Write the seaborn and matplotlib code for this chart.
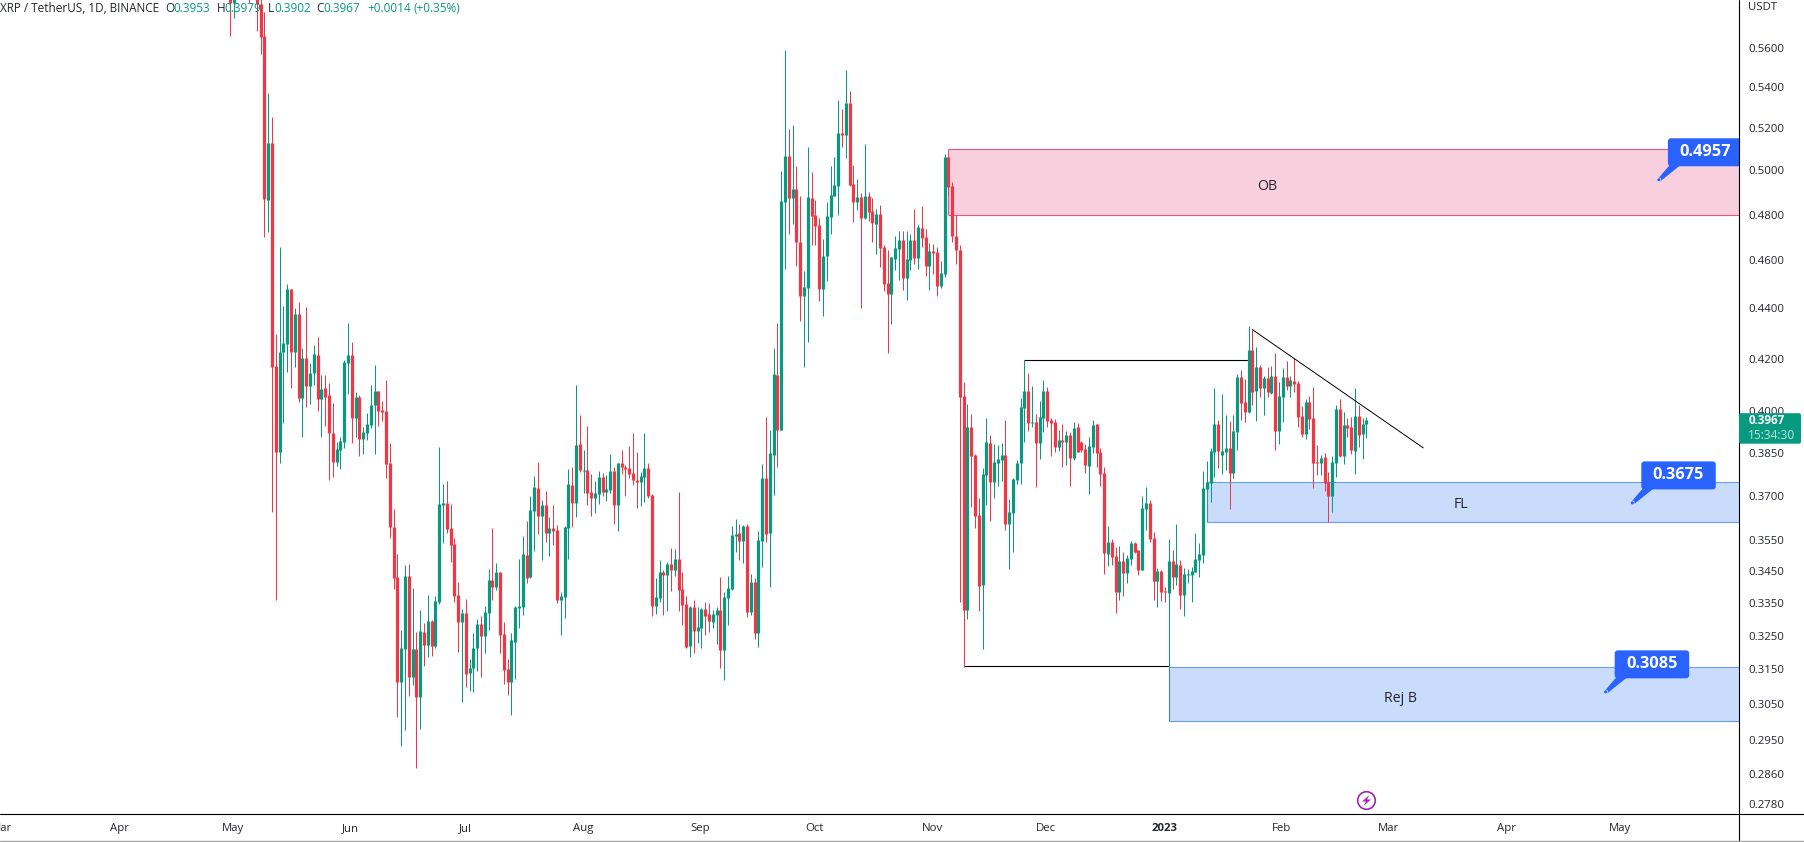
import matplotlib.pyplot as plt
import matplotlib.dates as mdates
from matplotlib.lines import Line2D
from matplotlib.patches import Rectangle, FancyBboxPatch, Polygon, Circle
from matplotlib.transforms import IdentityTransform
import seaborn as sns
import pandas as pd

# daily candles, oldest first (the first few sit above the visible range)
opens = [
    .6000,.5839,.5980,.5900,.6000,.6050,.5950,.6020,.5836,
    .5663,.4865,.5129,.4172,.3853,.4226,.4258,.4480,.4226,.4378,
    .4050,.4203,.4095,.4145,.4214,.4047,.4088,.4062,.3921,.3817,
    .3860,.3889,.4184,.4214,.3976,.4054,.3900,.3921,.3951,.4024,
    .4076,.4005,.4001,.3814,.3594,.3432,.3114,.3211,.3435,.3129,
    .3211,.3071,.3262,.3223,.3295,.3220,.3353,.3668,.3675,.3591,
    .3538,.3375,.3292,.3320,.3140,.3155,.3214,.3286,.3250,.3320,
    .3422,.3400,.3448,
    .3256,.3152,.3114,.3232,.3335,.3338,.3503,.3432,.3648,.3727,
    .3631,.3668,.3574,.3591,.3584,.3359,.3369,.3591,.3737,.3675,
    .3882,.3785,.3789,.3713,.3692,.3706,.3764,.3713,.3720,.3785,
    .3668,.3814,.3799,.3796,.3778,.3754,.3747,.3764,.3796,.3702,
    .3341,.3366,.3448,.3438,.3473,.3454,.3489,.3394,.3347,.3220,
    .3338,.3265,.3274,.3332,.3317,.3292,.3314,.3329,.3208,.3366,
    .3394,.3564,.3574,.3548,.3598,.3323,.3416,.3259,.3548,.3761,
    .3574,.3842,.4138,.3932,
    .4856,.5068,.4874,.4915,.4679,.4451,.4484,.4874,.4798,.4754,
    .4480,.4619,.4789,.4883,.4929,.5177,.5167,.5322,.4938,.4856,
    .4879,.4785,.4883,.4816,.4758,.4802,.4658,.4505,.4460,.4606,
    .4649,.4688,.4526,.4602,.4688,.4611,.4741,.4701,.4577,.4641,
    .4636,.4493,.4543,.5063,.4929,.4705,.4645,.4058,
    .3329,.3943,.3842,.3634,.3406,.3771,.3885,.3747,.3814,.3824,
    .3842,.3604,.3641,.3754,.3814,.4013,.4076,.3958,.3961,.3885,
    .3976,.4076,.3969,.3961,.3871,.3896,.3889,.3914,.3831,.3943,
    .3889,.3864,.3803,.3871,.3954,.3853,.3778,.3506,.3545,.3499,
    .3385,.3483,.3444,.3489,.3541,.3519,.3454,.3654,.3675,.3558,
    .3419,.3451,.3388,.3381,.3483,.3432,.3470,.3375,.3438,.3438,
    .3448,.3486,.3503,.3723,.3744,.3853,.3954,.3842,.3853,.3867,
    .3778,.3925,.4130,.4035,.3998,.4234,.4076,.4168,.4088,.4126,
    .4069,.4134,.3928,.4054,.4130,.4095,.4114,.4107,.3983,.3918,
    .4035,.3976,.3817,.3814,.3835,.3747,.3699,.3814,.4009,.3838,
    .3951,.3943,.3857,.3983,.3918,.3953,
]
highs = [
    .6100,.6050,.6050,.6020,.6040,.6100,.6050,.6050,.5880,
    .5790,.5372,.5253,.4298,.4658,.4410,.4501,.4480,.4402,.4427,
    .4242,.4406,.4184,.4254,.4286,.4138,.4138,.4107,.4032,.3889,
    .3907,.4195,.4342,.4266,.4073,.4062,.3943,.3994,.4099,.4176,
    .4076,.4039,.4118,.3885,.3654,.3506,.3268,.3470,.3473,.3397,
    .3262,.3329,.3289,.3375,.3298,.3372,.3871,.3740,.3751,.3671,
    .3558,.3416,.3332,.3362,.3181,.3259,.3301,.3310,.3341,.3457,
    .3591,.3476,.3448,
    .3292,.3181,.3259,.3341,.3489,.3564,.3614,.3699,.3768,.3817,
    .3685,.3716,.3628,.3668,.3601,.3385,.3598,.3792,.3799,.4099,
    .3987,.3860,.3947,.3775,.3751,.3785,.3778,.3771,.3846,.3799,
    .3814,.3860,.3806,.3874,.3921,.3853,.3782,.3921,.3814,.3706,
    .3428,.3486,.3454,.3480,.3525,.3522,.3713,.3448,.3372,.3341,
    .3359,.3338,.3335,.3353,.3350,.3329,.3338,.3432,.3385,.3435,
    .3598,.3621,.3604,.3601,.3604,.3441,.3428,.3581,.3810,.3980,
    .3932,.4242,.4342,.4997,
    .5590,.5196,.5215,.5021,.4883,.4556,.5110,.4993,.4865,.4785,
    .4692,.4856,.5021,.5063,.5337,.5293,.5487,.5382,.5026,.4961,
    .4897,.5124,.4901,.4874,.4825,.4843,.4666,.4645,.4615,.4705,
    .4727,.4727,.4727,.4714,.4825,.4754,.4838,.4736,.4675,.4670,
    .4658,.4598,.5077,.5063,.4947,.4798,.4666,.4110,
    .4028,.3990,.3846,.3692,.3796,.3976,.3914,.3882,.3878,.3885,
    .3969,.3689,.3761,.3824,.4050,.4195,.4145,.4095,.3990,.4039,
    .4118,.4092,.3976,.3972,.3932,.3954,.3928,.3925,.3961,.3958,
    .3892,.3882,.3907,.3969,.3954,.3867,.3799,.3598,.3554,.3528,
    .3532,.3512,.3503,.3548,.3545,.3519,.3699,.3730,.3685,.3578,
    .3460,.3454,.3400,.3554,.3519,.3604,.3486,.3460,.3457,.3464,
    .3574,.3541,.3785,.3821,.3867,.4088,.3969,.4065,.3987,.3965,
    .3987,.4141,.4157,.4122,.4330,.4314,.4246,.4176,.4134,.4168,
    .4172,.4222,.4110,.4164,.4191,.4134,.4203,.4114,.4020,.4047,
    .4058,.4092,.3878,.3842,.3850,.3782,.3838,.4024,.4047,.3998,
    .3976,.3980,.4088,.4024,.3976,.3979,
]
lows = [
    .5663,.5758,.5870,.5880,.5900,.5840,.5900,.5689,.5569,
    .4701,.4723,.3644,.3359,.3814,.3958,.4149,.4088,.4168,.4035,
    .3907,.4016,.4028,.4099,.4001,.3907,.3947,.3754,.3764,.3803,
    .3792,.3867,.4065,.3885,.3907,.3838,.3846,.3896,.3939,.3846,
    .3947,.3965,.3761,.3558,.3394,.3013,.2935,.2979,.3074,.3105,
    .2874,.2982,.3160,.3187,.3190,.3214,.3347,.3541,.3574,.3480,
    .3353,.3202,.3057,.3100,.3088,.3085,.3146,.3129,.3199,.3268,
    .3359,.3391,.3199,
    .3108,.3077,.3021,.3123,.3274,.3314,.3413,.3428,.3516,.3571,
    .3486,.3545,.3499,.3535,.3350,.3253,.3304,.3489,.3594,.3628,
    .3782,.3709,.3668,.3631,.3641,.3671,.3699,.3681,.3709,.3604,
    .3581,.3775,.3699,.3761,.3737,.3658,.3665,.3678,.3692,.3310,
    .3317,.3353,.3314,.3326,.3388,.3435,.3326,.3283,.3214,.3187,
    .3199,.3229,.3214,.3253,.3262,.3274,.3226,.3155,.3120,.3283,
    .3391,.3512,.3486,.3476,.3307,.3314,.3241,.3217,.3464,.3545,
    .3400,.3702,.3799,.3932,
    .4564,.4714,.4758,.4577,.4350,.4168,.4266,.4666,.4666,.4431,
    .4370,.4514,.4714,.4883,.4798,.5110,.5058,.4929,.4767,.4820,
    .4402,.4780,.4772,.4679,.4628,.4572,.4472,.4222,.4338,.4560,
    .4518,.4476,.4435,.4560,.4585,.4564,.4658,.4535,.4476,.4543,
    .4451,.4484,.4531,.4888,.4679,.4585,.3353,.3158,
    .3301,.3661,.3591,.3326,.3211,.3668,.3614,.3692,.3733,.3751,
    .3584,.3457,.3512,.3740,.3740,.3889,.3928,.3943,.3730,.3828,
    .3925,.3943,.3838,.3853,.3857,.3799,.3806,.3733,.3824,.3853,
    .3853,.3778,.3706,.3850,.3799,.3733,.3441,.3467,.3470,.3320,
    .3359,.3372,.3413,.3470,.3509,.3438,.3454,.3584,.3545,.3359,
    .3338,.3356,.3353,.3158,.3394,.3406,.3332,.3310,.3413,.3353,
    .3448,.3432,.3476,.3720,.3678,.3764,.3796,.3775,.3789,.3654,
    .3761,.3860,.3969,.3961,.3994,.4024,.3965,.4054,.3987,.4054,
    .4065,.3860,.3882,.3961,.4080,.4054,.4073,.3943,.3907,.3900,
    .3936,.3727,.3771,.3771,.3716,.3611,.3644,.3764,.3835,.3810,
    .3907,.3846,.3775,.3871,.3828,.3902,
]
closes = [
    .5839,.5980,.5900,.6000,.5950,.5950,.6020,.5836,.5657,
    .4870,.5129,.4168,.3853,.4226,.4262,.4480,.4226,.4378,.4050,
    .4203,.4095,.4145,.4218,.4047,.4084,.4054,.3921,.3817,.3864,
    .3892,.4187,.4214,.3976,.4054,.3900,.3925,.3954,.4024,.4076,
    .4001,.3998,.3810,.3594,.3428,.3114,.3214,.3435,.3129,.3211,
    .3071,.3265,.3223,.3295,.3220,.3356,.3671,.3675,.3587,.3535,
    .3372,.3292,.3320,.3137,.3155,.3214,.3286,.3250,.3323,.3422,
    .3400,.3448,.3253,
    .3149,.3114,.3238,.3338,.3341,.3506,.3428,.3651,.3730,.3631,
    .3668,.3574,.3591,.3581,.3359,.3372,.3594,.3740,.3675,.3878,
    .3789,.3789,.3709,.3692,.3709,.3764,.3713,.3723,.3785,.3668,
    .3814,.3799,.3792,.3775,.3754,.3747,.3768,.3796,.3699,.3341,
    .3369,.3448,.3438,.3473,.3454,.3489,.3391,.3344,.3217,.3338,
    .3265,.3277,.3332,.3310,.3295,.3317,.3329,.3208,.3369,.3397,
    .3568,.3571,.3548,.3598,.3323,.3416,.3259,.3551,.3761,.3571,
    .3850,.4141,.3932,.4860,
    .5068,.4874,.4915,.4679,.4451,.4489,.4879,.4794,.4749,.4480,
    .4619,.4794,.4888,.4933,.5177,.5167,.5322,.4933,.4856,.4879,
    .4785,.4883,.4811,.4763,.4802,.4654,.4501,.4460,.4615,.4654,
    .4688,.4526,.4606,.4688,.4611,.4745,.4697,.4577,.4641,.4632,
    .4493,.4547,.5063,.4924,.4705,.4645,.4054,.3329,
    .3943,.3838,.3631,.3403,.3775,.3889,.3747,.3817,.3828,.3842,
    .3604,.3644,.3758,.3814,.4016,.4076,.3958,.3961,.3885,.3980,
    .4076,.3965,.3958,.3871,.3896,.3889,.3914,.3831,.3939,.3853,
    .3860,.3806,.3874,.3951,.3850,.3775,.3509,.3545,.3496,.3385,
    .3483,.3444,.3493,.3541,.3512,.3454,.3658,.3675,.3554,.3419,
    .3451,.3385,.3385,.3483,.3432,.3473,.3375,.3441,.3441,.3451,
    .3489,.3506,.3727,.3747,.3857,.3954,.3857,.3857,.3867,.3778,
    .3928,.4130,.4032,.3998,.4234,.4073,.4168,.4088,.4126,.4073,
    .4134,.3928,.4058,.4130,.4095,.4118,.4103,.3980,.3918,.4035,
    .3972,.3814,.3814,.3831,.3744,.3699,.3817,.4009,.3838,.3951,
    .3939,.3860,.3983,.3914,.3954,.3967,
]

price_ticks = [.56, .54, .52, .50, .48, .46, .44, .42, .40, .385, .37, .355,
               .345, .335, .325, .315, .305, .295, .286, .278]
month_labels = ['Mar', 'Apr', 'May', 'Jun', 'Jul', 'Aug', 'Sep', 'Oct', 'Nov', 'Dec',
                '2023', 'Feb', 'Mar', 'Apr', 'May']
month_dates = ['2022-03-01', '2022-04-01', '2022-05-01', '2022-06-01', '2022-07-01',
               '2022-08-01', '2022-09-01', '2022-10-01', '2022-11-01', '2022-12-01',
               '2023-01-01', '2023-02-01', '2023-03-01', '2023-04-01', '2023-05-01']

# zones: name, start date, top price, bottom price
zone_names = ['OB', 'FL', 'Rej B']
zone_starts = ['2022-11-04', '2023-01-11', '2023-01-01']
zone_tops = [.5098, .3746, .3157]
zone_bottoms = [.4800, .3610, .3002]
zone_text_dates = ['2023-01-27', '2023-03-19', '2023-03-03']
zone_text_prices = [.4925, .3670, .3065]
callout_prices = [.4957, .3675, .3085]
callout_dates = ['2023-05-10', '2023-05-03', '2023-04-26']

W, H = 1804, 842
PX_PER_DAY = 3.80
AXIS_X, AXIS_Y = 1738.5, 814.3
RED, GREEN, BLUE = '#f23645', '#089981', '#2962ff'
TEXT = '#22252e'

sns.set_theme(style='white')
plt.rcParams['font.family'] = ['Open Sans', 'DejaVu Sans']

dates = pd.date_range(end='2023-02-22', periods=len(opens), freq='D')
candles = pd.DataFrame({'date': dates, 'open': opens, 'high': highs, 'low': lows, 'close': closes})
candles['dir'] = ['up' if c >= o else 'down' for o, c in zip(candles['open'], candles['close'])]
wicks = candles.melt(id_vars=['date', 'dir'], value_vars=['low', 'high'], value_name='price')
bodies = candles.melt(id_vars=['date', 'dir'], value_vars=['open', 'close'], value_name='price')

fig = plt.figure(figsize=(W / 100, H / 100), dpi=100)
ax = fig.add_axes([0, (H - AXIS_Y) / H, AXIS_X / W, AXIS_Y / H])
ax.set_yscale('log')

palette = {'up': GREEN, 'down': RED}
sns.lineplot(data=wicks, x='date', y='price', hue='dir', palette=palette, units='date',
             estimator=None, linewidth=0.72, solid_capstyle='butt', legend=False, ax=ax, zorder=3)
sns.lineplot(data=bodies, x='date', y='price', hue='dir', palette=palette, units='date',
             estimator=None, linewidth=2.3, solid_capstyle='butt', legend=False, ax=ax, zorder=3)

jan1 = mdates.date2num(pd.Timestamp('2023-01-01'))
ax.set_xlim(jan1 - 1168.7 / PX_PER_DAY, jan1 + (AXIS_X - 1168.7) / PX_PER_DAY)
ax.set_ylim(.27543, .5855)
ax.set_xlabel('')
ax.set_ylabel('')
for s in ax.spines.values():
    s.set_visible(False)

ax.yaxis.tick_right()
ax.set_yticks(price_ticks)
ax.set_yticklabels([f'{p:.4f}' for p in price_ticks])
ax.minorticks_off()
ax.tick_params(axis='y', length=0, pad=6.8, labelsize=8.2, labelcolor=TEXT)
# month labels sit a little left of the first bar of the month
ax.set_xticks([mdates.date2num(pd.Timestamp(d)) - 1.2 for d in month_dates])
ax.set_xticklabels(month_labels)
ax.tick_params(axis='x', length=0, pad=6.2, labelsize=8.2, labelcolor=TEXT)
for lab, name in zip(ax.get_xticklabels(), month_labels):
    if name == '2023':
        lab.set_fontweight('bold')

# zones
right = ax.get_xlim()[1]
fills = ['#f7cfdd', '#c9dcfc', '#c9dcfc']
edges = ['#e0588e', '#6a9ef3', '#6a9ef3']
lefts = ['#e0588e', '#3c8c98', '#3c8c98']
for i, name in enumerate(zone_names):
    x0 = mdates.date2num(pd.Timestamp(zone_starts[i]))
    ax.add_patch(Rectangle((x0, zone_bottoms[i]), right - x0, zone_tops[i] - zone_bottoms[i],
                           facecolor=fills[i], edgecolor='none', zorder=1))
    ax.hlines([zone_tops[i], zone_bottoms[i]], x0, right, color=edges[i], lw=0.8, zorder=2)
    ax.vlines(x0, zone_bottoms[i], zone_tops[i], color=lefts[i], lw=0.8, zorder=2)
    ax.text(mdates.date2num(pd.Timestamp(zone_text_dates[i])), zone_text_prices[i], name, ha='center', va='center',
            fontsize=10.2, color=TEXT, zorder=4)

# hand drawn lines
d = lambda s: mdates.date2num(pd.Timestamp(s))
ax.hlines(.4194, d('2022-11-24'), d('2023-01-22'), color='black', lw=0.8, zorder=2)
ax.hlines(.3160, d('2022-11-08'), d('2023-01-01'), color='black', lw=0.8, zorder=2)
sns.lineplot(x=[d('2023-01-23'), d('2023-03-09')], y=[.4315, .3867], color='black', lw=0.7, ax=ax,
             zorder=4, estimator=None, sort=False)
ax.set_xlabel('')
ax.set_ylabel('')

# price callouts, sized in pixels around their anchor
px = IdentityTransform()
for price, when in zip(callout_prices, callout_dates):
    tx, ty = ax.transData.transform((d(when), price))
    tail = Polygon([(tx - 1, ty + 1), (tx + 11, ty + 15), (tx + 22, ty + 15), (tx + 1.5, ty - 1.5)],
                   closed=True, facecolor=BLUE, edgecolor='none', transform=px, zorder=6)
    box = FancyBboxPatch((tx + 11, ty + 15.5), 70.5, 24, boxstyle='round,pad=2,rounding_size=3',
                         facecolor=BLUE, edgecolor='none', transform=px, zorder=6)
    dot = Circle((tx, ty), 2.0, facecolor=BLUE, edgecolor='#dfe8ff', lw=0.5, transform=px, zorder=7)
    for art in (tail, box, dot):
        ax.add_artist(art)
        art.set_clip_box(ax.bbox)
    ax.text(tx + 46, ty + 27.5, f'{price:.4f}', transform=px, color='white', fontsize=11.8,
            fontweight='bold', ha='center', va='center', zorder=8, clip_on=True)

# frame lines on the figure
fig.add_artist(Line2D([AXIS_X, AXIS_X], [0, H], transform=px, color='black', lw=0.8, zorder=5))
fig.add_artist(Line2D([0, W], [H - AXIS_Y, H - AXIS_Y], transform=px, color='black', lw=0.8, zorder=5))
fig.add_artist(Line2D([0, W], [0.8, 0.8], transform=px, color='#a8a8a8', lw=1.0, zorder=5))

# header
header = [('XRP / TetherUS, 1D, BINANCE', 0, TEXT), ('O', 165, TEXT), ('0.3953', 173, GREEN),
          ('H', 216.5, TEXT), ('0.3979', 224, GREEN), ('L', 268, TEXT), ('0.3902', 274, GREEN),
          ('C', 316.5, TEXT), ('0.3967', 323, GREEN), ('+0.0014', 367, GREEN), ('(+0.35%)', 413, GREEN)]
for txt, xpos, col in header:
    fig.text(xpos / W, 1 - 8 / H, txt, color=col, fontsize=8.5, va='center', ha='left', zorder=6)

fig.text(1748.3 / W, 1 - 7 / H, 'USDT', color=TEXT, fontsize=8.2, va='center', ha='left')

# last price tag
fig.add_artist(FancyBboxPatch((1739, H - 443.7), 62, 30.5, boxstyle='round,pad=0,rounding_size=2',
                              facecolor=GREEN, edgecolor='none', transform=px, zorder=6))
fig.text(1748.3 / W, 1 - 421 / H, '0.3967', color='white', fontsize=8.4, fontweight='bold',
         va='center', ha='left', zorder=7)
fig.text(1748.3 / W, 1 - 436 / H, '15:34:30', color='#bfe6de', fontsize=8.6, va='center', ha='left', zorder=7)

# purple lightning badge under the last candle
cx, cy = 1366.5, H - 800.5
fig.add_artist(Circle((cx, cy), 8.8, facecolor='white', edgecolor='#9c27b0', lw=1.2, transform=px, zorder=6))
fig.add_artist(Polygon([(cx + 3, cy + 5.5), (cx - 4.5, cy - 1), (cx - 0.5, cy - 1), (cx - 3, cy - 5.5),
                        (cx + 4.5, cy + 1), (cx + 0.5, cy + 1)], closed=True, facecolor='#9c27b0',
                       edgecolor='none', transform=px, zorder=7))

fig.savefig('out.png', dpi=100)
